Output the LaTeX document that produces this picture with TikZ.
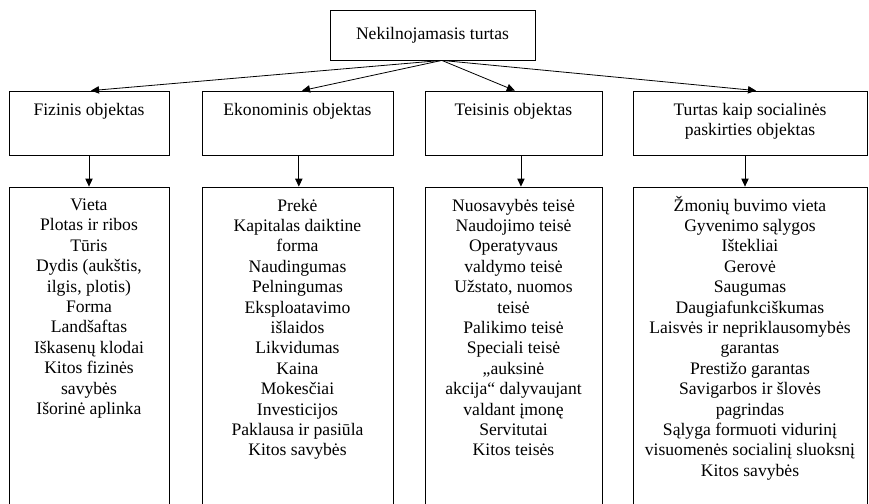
\documentclass[tikz,border=0pt]{standalone}
\usepackage{fontspec}
\setmainfont{Liberation Serif}
\usetikzlibrary{arrows.meta,positioning}

\begin{document}
\begin{tikzpicture}[
    x=0.75pt, y=-0.75pt,
    font=\fontsize{13.2}{15.3}\selectfont,
    >={Triangle[length=6pt,width=5.5pt]},
    topNode/.style={
        rectangle, draw=black, line width=0.6pt,
        minimum width=153.75pt, minimum height=37.5pt,
        inner sep=0pt
    },
    groupNode/.style={
        rectangle, draw=black, line width=0.6pt,
        minimum height=48pt, inner sep=0pt
    },
    listNode/.style={
        rectangle, draw=black, line width=0.6pt,
        minimum height=240.75pt, inner sep=0pt
    },
    boxText/.style={anchor=north, inner sep=0pt, align=center},
    flow/.style={->, line width=0.6pt}
]
\useasboundingbox (0,0) rectangle (869,504);

% Layout plan: one root, four object kinds, each with its list of properties below.
\node[topNode] (Turtas) at (432.5,35) {Nekilnojamasis turtas};
\coordinate (Hub) at ([xshift=7pt]Turtas.south);

\node[groupNode, minimum width=120pt] (Fizinis) at (89,123) {};
\node[boxText, below=9pt of Fizinis.north] (FizinisText) {Fizinis objektas};
\node[groupNode, minimum width=143.25pt] (Ekonominis) at (297.5,123) {};
\node[boxText, below=9pt of Ekonominis.north] (EkonominisText) {Ekonominis objektas};
\node[groupNode, minimum width=132.75pt] (Teisinis) at (513.5,123) {};
\node[boxText, below=9pt of Teisinis.north] (TeisinisText) {Teisinis objektas};
\node[groupNode, minimum width=175.5pt] (Socialinis) at (750,123) {};
\node[boxText, below=9pt of Socialinis.north] (SocialinisText)
  {Turtas kaip socialinės\\paskirties objektas};

\node[listNode, minimum width=120pt] (FizinisList) at (89,347.5) {};
\node[boxText, below=9pt of FizinisList.north] (FizinisItems)
  {Vieta\\Plotas ir ribos\\Tūris\\Dydis (aukštis,\\ilgis, plotis)\\Forma\\Landšaftas\\Iškasenų klodai\\Kitos fizinės\\savybės\\Išorinė aplinka};
\node[listNode, minimum width=143.25pt] (EkonominisList) at (297.5,347.5) {};
\node[boxText, below=9pt of EkonominisList.north] (EkonominisItems)
  {Prekė\\Kapitalas daiktine\\forma\\Naudingumas\\Pelningumas\\Eksploatavimo\\išlaidos\\Likvidumas\\Kaina\\Mokesčiai\\Investicijos\\Paklausa ir pasiūla\\Kitos savybės};
\node[listNode, minimum width=132.75pt] (TeisinisList) at (513.5,347.5) {};
\node[boxText, below=9pt of TeisinisList.north] (TeisinisItems)
  {Nuosavybės teisė\\Naudojimo teisė\\Operatyvaus\\valdymo teisė\\Užstato, nuomos\\teisė\\Palikimo teisė\\Speciali teisė\\„auksinė\\akcija“ dalyvaujant\\valdant įmonę\\Servitutai\\Kitos teisės};
\node[listNode, minimum width=175.5pt] (SocialinisList) at (750,347.5) {};
\node[boxText, below=6.8pt of SocialinisList.north] (SocialinisItems)
  {Žmonių buvimo vieta\\Gyvenimo sąlygos\\Ištekliai\\Gerovė\\Saugumas\\Daugiafunkciškumas\\Laisvės ir nepriklausomybės\\garantas\\Prestižo garantas\\Savigarbos ir šlovės\\pagrindas\\Sąlyga formuoti vidurinį\\visuomenės socialinį sluoksnį\\Kitos savybės};

\draw[flow] (Hub) -- ([xshift=1.5pt]Fizinis.north);
\draw[flow] (Hub) -- ([xshift=3.4pt]Ekonominis.north);
\draw[flow] (Hub) -- ([xshift=1pt]Teisinis.north);
\draw[flow] (Hub) -- ([xshift=4.5pt]Socialinis.north);

\draw[flow] (Fizinis.south) -- (FizinisList.north);
\draw[flow] ([xshift=1pt]Ekonominis.south) -- ([xshift=1pt]EkonominisList.north);
\draw[flow] ([xshift=5.6pt]Teisinis.south) -- ([xshift=5.6pt]TeisinisList.north);
\draw[flow] ([xshift=-3.75pt]Socialinis.south) -- ([xshift=-3.75pt]SocialinisList.north);

\end{tikzpicture}
\end{document}
